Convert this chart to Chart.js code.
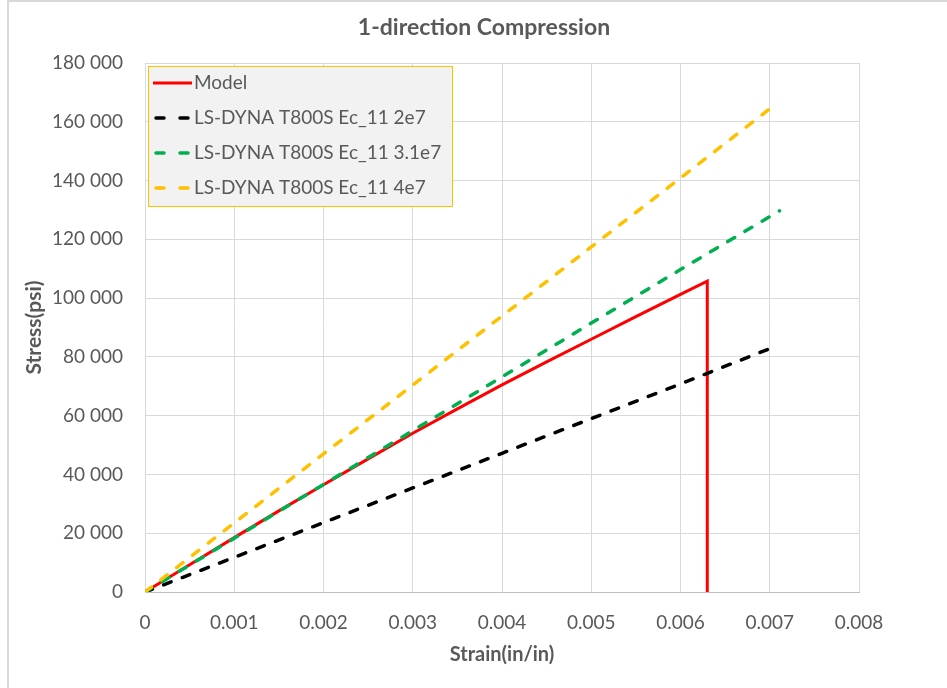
<!DOCTYPE html>
<html>
<head>
<meta charset="utf-8">
<title>1-direction Compression</title>
<script src="https://cdn.jsdelivr.net/npm/chart.js@4.4.1/dist/chart.umd.min.js"></script>
<style>
  html, body { margin: 0; padding: 0; background: #fff; }
  #frame {
    position: absolute; left: 7px; top: 0;
    width: 940px; height: 688px;
    border-left: 2px solid #d9d9d9; border-top: 2px solid #d9d9d9;
    box-sizing: border-box;
  }
  #wrap { position: absolute; left: 0; top: 0; width: 947px; height: 688px; }
</style>
</head>
<body>
<div id="frame"></div>
<div id="wrap"><canvas id="chart"></canvas></div>
<script>
// stress-strain curves, strain in in/in, stress in psi
var modelStrain = [0, 0.0005, 0.001, 0.0015, 0.002, 0.0025, 0.003, 0.0035, 0.004, 0.0045, 0.005, 0.0055, 0.006, 0.0063, 0.0063];
var modelStress = [0, 9300, 18500, 27600, 36500, 45300, 54000, 62300, 70500, 78300, 86000, 93700, 101300, 105800, 0];

var ec2e7Strain = [0, 0.001, 0.002, 0.003, 0.004, 0.005, 0.006, 0.00704];
var ec2e7Stress = [0, 11800, 23600, 35400, 47200, 59000, 70800, 83300];

var ec31e7Strain = [0, 0.001, 0.002, 0.003, 0.004, 0.005, 0.006, 0.00711];
var ec31e7Stress = [0, 18300, 36600, 54900, 73200, 91500, 109700, 129700];

var ec4e7Strain = [0, 0.001, 0.002, 0.003, 0.004, 0.005, 0.006, 0.00705];
var ec4e7Stress = [0, 23500, 47000, 70400, 93900, 117400, 140900, 165600];

var seriesLabels = ['Model', 'LS-DYNA T800S Ec_11 2e7', 'LS-DYNA T800S Ec_11 3.1e7', 'LS-DYNA T800S Ec_11 4e7'];

var FONT = 'Lato, "Open Sans", sans-serif';
var GREY = '#595959';

function pts(xs, ys) {
    var out = [];
    for (var i = 0; i < xs.length; i++) out.push({x: xs[i], y: ys[i]});
    return out;
}

function spaced(v) {
    return String(v).replace(/\B(?=(\d{3})+(?!\d))/g, ' ');
}

// title drawn by hand so it can sit off the canvas centre
var titlePlugin = {
    id: 'plotTitle',
    afterDraw: function(chart) {
        var ctx = chart.ctx;
        ctx.save();
        ctx.font = 'bold 23px ' + FONT;
        ctx.fillStyle = GREY;
        ctx.textAlign = 'center';
        ctx.textBaseline = 'middle';
        ctx.fillText('1-direction Compression', 484, 28);
        ctx.restore();
    }
};

// boxed legend in the upper left of the plot
var boxLegend = {
    id: 'boxLegend',
    afterDatasetsDraw: function(chart) {
        var ctx = chart.ctx;
        var a = chart.chartArea;
        var x = a.left + 3, y = a.top + 3, w = 305, h = 141;
        ctx.save();
        ctx.fillStyle = '#f2f2f2';
        ctx.fillRect(x, y, w, h);
        ctx.strokeStyle = '#ffc000';
        ctx.lineWidth = 1;
        ctx.strokeRect(x + 0.5, y + 0.5, w - 1, h - 1);
        ctx.font = '19px ' + FONT;
        ctx.textBaseline = 'middle';
        chart.data.datasets.forEach(function(ds, i) {
            var rowY = y + 17 + i * 35;
            ctx.beginPath();
            ctx.strokeStyle = ds.borderColor;
            ctx.lineWidth = ds.borderWidth;
            ctx.lineCap = ds.borderDash ? 'round' : 'butt';
            if (ds.borderDash) {
                ctx.setLineDash([8, 16]);
                ctx.moveTo(x + 8, rowY);
                ctx.lineTo(x + 42, rowY);
            } else {
                ctx.setLineDash([]);
                ctx.moveTo(x + 5, rowY);
                ctx.lineTo(x + 44, rowY);
            }
            ctx.stroke();
            ctx.setLineDash([]);
            ctx.fillStyle = GREY;
            ctx.fillText(ds.label, x + 46, rowY);
        });
        ctx.restore();
    }
};

var ctx = document.getElementById('chart').getContext('2d');

var chart = new Chart(ctx, {
    type: 'line',
    data: {
        datasets: [{
            label: seriesLabels[0],
            data: pts(modelStrain, modelStress),
            borderColor: '#ff0000',
            borderWidth: 3,
            order: 4
        }, {
            label: seriesLabels[1],
            data: pts(ec2e7Strain, ec2e7Stress),
            borderColor: '#000000',
            borderWidth: 3.5,
            borderDash: [8, 12],
            borderCapStyle: 'round',
            order: 3
        }, {
            label: seriesLabels[2],
            data: pts(ec31e7Strain, ec31e7Stress),
            borderColor: '#00b050',
            borderWidth: 3.5,
            borderDash: [8, 12],
            borderCapStyle: 'round',
            order: 2
        }, {
            label: seriesLabels[3],
            data: pts(ec4e7Strain, ec4e7Stress),
            borderColor: '#ffc000',
            borderWidth: 3.5,
            borderDash: [8, 12],
            borderCapStyle: 'round',
            order: 1
        }]
    },
    options: {
        responsive: true,
        maintainAspectRatio: false,
        animation: false,
        events: [],
        elements: {
            point: {radius: 0},
            line: {tension: 0, fill: false}
        },
        layout: {padding: {left: 0, right: 88, top: 63, bottom: 0}},
        plugins: {
            legend: {display: false},
            tooltip: {enabled: false},
            title: {display: false}
        },
        scales: {
            x: {
                type: 'linear',
                min: 0,
                max: 0.008,
                ticks: {
                    stepSize: 0.001,
                    color: GREY,
                    padding: 19,
                    maxRotation: 0,
                    font: {family: FONT, size: 19},
                    callback: function(v) { return v === 0 ? '0' : v.toFixed(3); }
                },
                grid: {color: '#d9d9d9', drawTicks: false},
                border: {color: '#bfbfbf'},
                title: {
                    display: true,
                    text: 'Strain(in/in)',
                    color: GREY,
                    font: {family: FONT, size: 20, weight: 'bold'},
                    padding: {top: 0, bottom: 21}
                },
                afterFit: function(s) { s.height = 96; }
            },
            y: {
                min: 0,
                max: 180000,
                ticks: {
                    stepSize: 20000,
                    color: GREY,
                    padding: 22,
                    font: {family: FONT, size: 19},
                    callback: function(v) { return spaced(v); }
                },
                grid: {color: '#d9d9d9', drawTicks: false},
                border: {color: '#d9d9d9'},
                title: {
                    display: true,
                    text: 'Stress(psi)',
                    color: GREY,
                    font: {family: FONT, size: 21, weight: 'bold'},
                    padding: {top: 22, bottom: 0}
                },
                afterFit: function(s) { s.width = 145; }
            }
        }
    },
    plugins: [titlePlugin, boxLegend]
});
</script>
</body>
</html>
